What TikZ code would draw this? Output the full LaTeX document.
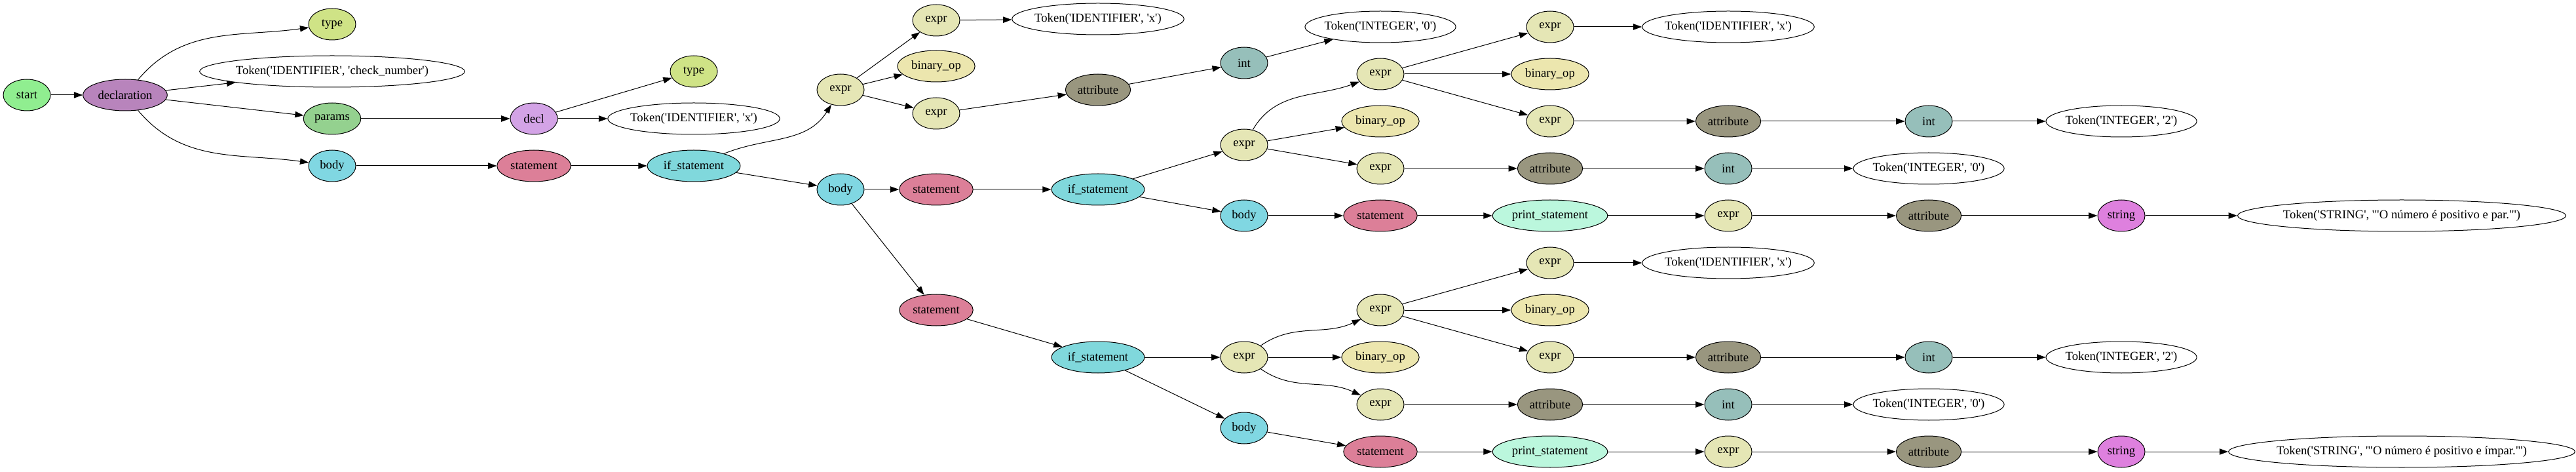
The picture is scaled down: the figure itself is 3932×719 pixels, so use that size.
\documentclass[tikz,border=0pt]{standalone}
\usepackage{fontspec}
\setmainfont{Liberation Serif}[Ligatures=TeXOff]
\usepackage{tikz}
\usetikzlibrary{shapes.geometric,arrows.meta}

\definecolor{startcol}{HTML}{90EE90}
\definecolor{declcol}{HTML}{B884BC}
\definecolor{typecol}{HTML}{CFE386}
\definecolor{paramcol}{HTML}{94D18F}
\definecolor{bodycol}{HTML}{80D7E2}
\definecolor{dclcol}{HTML}{D3A3E6}
\definecolor{stmtcol}{HTML}{DC7F98}
\definecolor{ifcol}{HTML}{80D8DC}
\definecolor{exprcol}{HTML}{E5E6B5}
\definecolor{opcol}{HTML}{ECE6AE}
\definecolor{attrcol}{HTML}{99967F}
\definecolor{intcol}{HTML}{96BFBA}
\definecolor{printcol}{HTML}{BBF7DD}
\definecolor{strcol}{HTML}{DE80DE}

\tikzset{
  nd/.style={ellipse, draw, line width=0.75bp, minimum width=54bp, minimum height=36bp,
    inner xsep=3bp, inner ysep=0pt, font=\fontsize{14bp}{16bp}\selectfont},
  tok/.style={nd, fill=white, inner xsep=-3bp},
  startnd/.style={nd, fill=startcol},
  declnd/.style={nd, fill=declcol},
  typend/.style={nd, fill=typecol},
  paramnd/.style={nd, fill=paramcol},
  bodynd/.style={nd, fill=bodycol},
  dclnd/.style={nd, fill=dclcol},
  stmtnd/.style={nd, fill=stmtcol},
  ifnd/.style={nd, fill=ifcol},
  exprnd/.style={nd, fill=exprcol},
  opnd/.style={nd, fill=opcol},
  attrnd/.style={nd, fill=attrcol},
  intnd/.style={nd, fill=intcol},
  printnd/.style={nd, fill=printcol},
  strnd/.style={nd, fill=strcol},
  edge/.style={line width=0.75bp, -{Triangle[length=10bp,width=7bp]}}
}

\begin{document}
\begin{tikzpicture}[x=0.75bp, y=0.75bp]
    \useasboundingbox (0,0) rectangle (3932,719);

    % declaration part
    \node[startnd] (start) at (41,574) {start};
    \node[declnd] (declaration) at (191,574) {declaration};
    \node[typend] (type1) at (507,682) {type};
    \node[tok] (tokcheck) at (507,610) {Token('IDENTIFIER', 'check\_number')};
    \node[paramnd] (params) at (507,538) {params};
    \node[bodynd] (body1) at (507,466) {body};
    \node[dclnd] (decl) at (815,538) {decl};
    \node[typend] (type2) at (1059,610) {type};
    \node[tok] (tokx1) at (1059,538) {Token('IDENTIFIER', 'x')};
    \node[stmtnd] (stmt1) at (815,466) {statement};
    \node[ifnd] (if1) at (1059,466) {if\_statement};

    % first condition
    \node[exprnd] (expr1) at (1283,582) {expr};
    \node[exprnd] (expr11) at (1429,688) {expr};
    \node[opnd] (op1) at (1429,618) {binary\_op};
    \node[exprnd] (expr12) at (1429,546) {expr};
    \node[tok] (tokx2) at (1676,690) {Token('IDENTIFIER', 'x')};
    \node[attrnd] (attr1) at (1676,582) {attribute};
    \node[intnd] (int1) at (1899,623) {int};
    \node[tok] (tokint1) at (2107,678) {Token('INTEGER', '0')};
    \node[bodynd] (body2) at (1283,430) {body};
    \node[stmtnd] (stmt2) at (1429,430) {statement};
    \node[ifnd] (if2) at (1676,430) {if\_statement};

    % inner if (par)
    \node[exprnd] (expr2) at (1899,498) {expr};
    \node[exprnd] (expr21) at (2107,606) {expr};
    \node[opnd] (op2) at (2107,534) {binary\_op};
    \node[exprnd] (expr22) at (2107,462) {expr};
    \node[exprnd] (expr211) at (2366,678) {expr};
    \node[tok] (tokx3) at (2638,678) {Token('IDENTIFIER', 'x')};
    \node[opnd] (op21) at (2366,606) {binary\_op};
    \node[exprnd] (expr212) at (2366,534) {expr};
    \node[attrnd] (attr21) at (2638,534) {attribute};
    \node[intnd] (int21) at (2944,534) {int};
    \node[tok] (tokint2) at (3238,534) {Token('INTEGER', '2')};
    \node[attrnd] (attr22) at (2366,462) {attribute};
    \node[intnd] (int22) at (2638,462) {int};
    \node[tok] (tokint3) at (2944,462) {Token('INTEGER', '0')};
    \node[bodynd] (body3) at (1899,390) {body};
    \node[stmtnd] (stmt3) at (2107,390) {statement};
    \node[printnd] (print1) at (2366,390) {print\_statement};
    \node[exprnd] (expr3) at (2638,390) {expr};
    \node[attrnd] (attr3) at (2944,390) {attribute};
    \node[strnd] (str1) at (3238,390) {string};
    \node[tok] (tokstr1) at (3666,390) {Token('STRING', '"O número é positivo e par."')};

    % inner if (impar)
    \node[stmtnd] (stmt4) at (1429,246) {statement};
    \node[ifnd] (if3) at (1676,174) {if\_statement};
    \node[exprnd] (expr4) at (1899,174) {expr};
    \node[exprnd] (expr41) at (2107,246) {expr};
    \node[opnd] (op4) at (2107,174) {binary\_op};
    \node[exprnd] (expr42) at (2107,102) {expr};
    \node[exprnd] (expr411) at (2366,318) {expr};
    \node[tok] (tokx4) at (2638,318) {Token('IDENTIFIER', 'x')};
    \node[opnd] (op41) at (2366,246) {binary\_op};
    \node[exprnd] (expr412) at (2366,174) {expr};
    \node[attrnd] (attr41) at (2638,174) {attribute};
    \node[intnd] (int41) at (2944,174) {int};
    \node[tok] (tokint4) at (3238,174) {Token('INTEGER', '2')};
    \node[attrnd] (attr42) at (2366,102) {attribute};
    \node[intnd] (int42) at (2638,102) {int};
    \node[tok] (tokint5) at (2944,102) {Token('INTEGER', '0')};
    \node[bodynd] (body4) at (1899,66) {body};
    \node[stmtnd] (stmt5) at (2107,30) {statement};
    \node[printnd] (print2) at (2366,30) {print\_statement};
    \node[exprnd] (expr5) at (2638,30) {expr};
    \node[attrnd] (attr5) at (2944,30) {attribute};
    \node[strnd] (str2) at (3238,30) {string};
    \node[tok] (tokstr2) at (3666,30) {Token('STRING', '"O número é positivo e ímpar."')};

    % edges
    \draw[edge] (start) -- (declaration);
    \draw[edge] (declaration) to[out=50, in=188] (type1);
    \draw[edge] (declaration) -- (tokcheck);
    \draw[edge] (declaration) -- (params);
    \draw[edge] (declaration) to[out=-50, in=172] (body1);
    \draw[edge] (params) -- (decl);
    \draw[edge] (decl) -- (type2);
    \draw[edge] (decl) -- (tokx1);
    \draw[edge] (body1) -- (stmt1);
    \draw[edge] (stmt1) -- (if1);
    \draw[edge] (if1) to[out=22, in=238] (expr1);
    \draw[edge] (if1) -- (body2);
    \draw[edge] (expr1) -- (expr11);
    \draw[edge] (expr1) -- (op1);
    \draw[edge] (expr1) -- (expr12);
    \draw[edge] (expr11) -- (tokx2);
    \draw[edge] (expr12) -- (attr1);
    \draw[edge] (attr1) -- (int1);
    \draw[edge] (int1) -- (tokint1);
    \draw[edge] (body2) -- (stmt2);
    \draw[edge] (body2) -- (stmt4);
    \draw[edge] (stmt2) -- (if2);
    \draw[edge] (if2) -- (expr2);
    \draw[edge] (if2) -- (body3);
    \draw[edge] (expr2) to[out=60, in=200] (expr21);
    \draw[edge] (expr2) -- (op2);
    \draw[edge] (expr2) -- (expr22);
    \draw[edge] (expr21) -- (expr211);
    \draw[edge] (expr21) -- (op21);
    \draw[edge] (expr21) -- (expr212);
    \draw[edge] (expr211) -- (tokx3);
    \draw[edge] (expr212) -- (attr21);
    \draw[edge] (attr21) -- (int21);
    \draw[edge] (int21) -- (tokint2);
    \draw[edge] (expr22) -- (attr22);
    \draw[edge] (attr22) -- (int22);
    \draw[edge] (int22) -- (tokint3);
    \draw[edge] (body3) -- (stmt3);
    \draw[edge] (stmt3) -- (print1);
    \draw[edge] (print1) -- (expr3);
    \draw[edge] (expr3) -- (attr3);
    \draw[edge] (attr3) -- (str1);
    \draw[edge] (str1) -- (tokstr1);
    \draw[edge] (stmt4) -- (if3);
    \draw[edge] (if3) -- (expr4);
    \draw[edge] (if3) -- (body4);
    \draw[edge] (expr4) to[out=35, in=205] (expr41);
    \draw[edge] (expr4) -- (op4);
    \draw[edge] (expr4) to[out=-35, in=155] (expr42);
    \draw[edge] (expr41) -- (expr411);
    \draw[edge] (expr41) -- (op41);
    \draw[edge] (expr41) -- (expr412);
    \draw[edge] (expr411) -- (tokx4);
    \draw[edge] (expr412) -- (attr41);
    \draw[edge] (attr41) -- (int41);
    \draw[edge] (int41) -- (tokint4);
    \draw[edge] (expr42) -- (attr42);
    \draw[edge] (attr42) -- (int42);
    \draw[edge] (int42) -- (tokint5);
    \draw[edge] (body4) -- (stmt5);
    \draw[edge] (stmt5) -- (print2);
    \draw[edge] (print2) -- (expr5);
    \draw[edge] (expr5) -- (attr5);
    \draw[edge] (attr5) -- (str2);
    \draw[edge] (str2) -- (tokstr2);
\end{tikzpicture}
\end{document}
